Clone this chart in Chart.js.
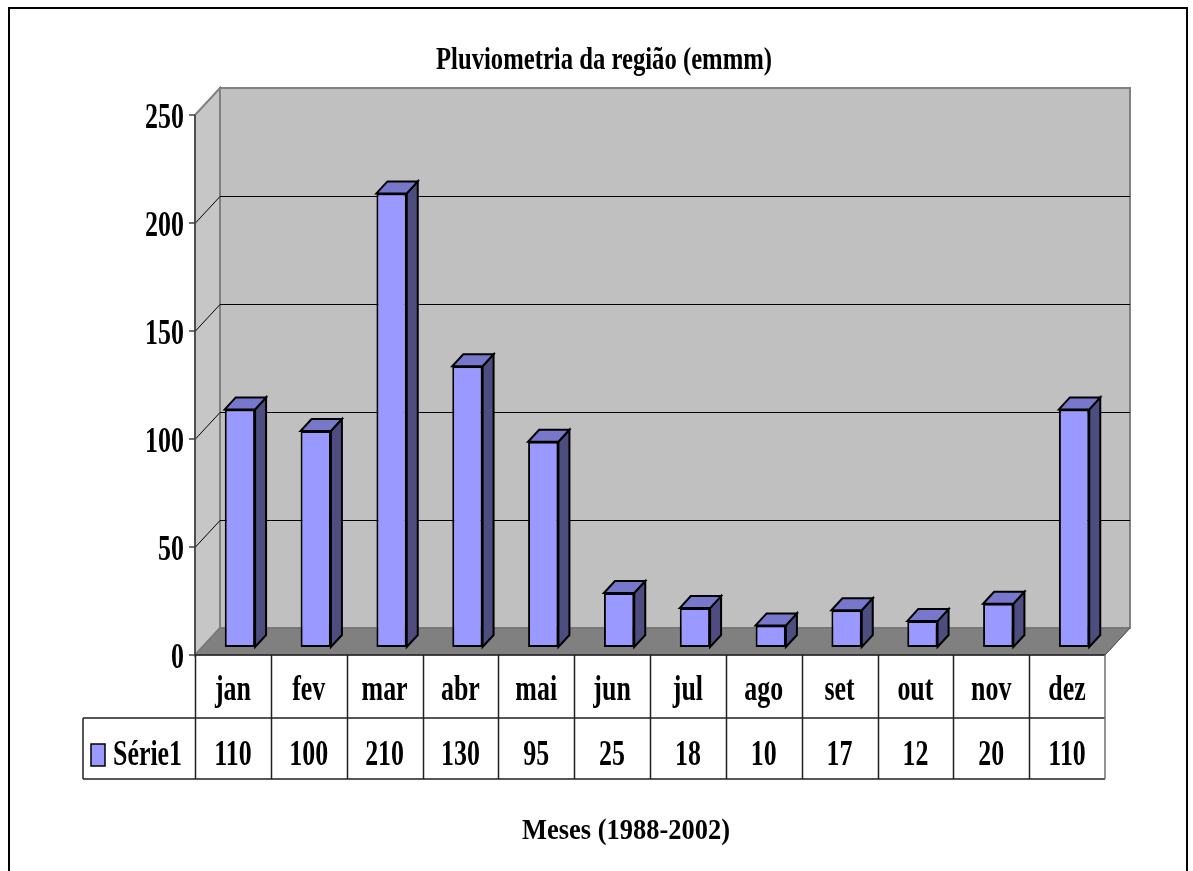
<!DOCTYPE html>
<html>
<head>
<meta charset="utf-8">
<title>Pluviometria da região</title>
<script src="https://cdn.jsdelivr.net/npm/chart.js@4.4.1/dist/chart.umd.min.js"></script>
<style>
  html, body { margin: 0; padding: 0; background: #fff; }
  #wrap { position: relative; width: 1193px; height: 871px; }
</style>
</head>
<body>
<div id="wrap"><canvas id="rainChart" width="1193" height="871"></canvas></div>
<script>
const months = ['jan', 'fev', 'mar', 'abr', 'mai', 'jun', 'jul', 'ago', 'set', 'out', 'nov', 'dez'];
const rainfall = [110, 100, 210, 130, 95, 25, 18, 10, 17, 12, 20, 110];
const yTicks = [0, 50, 100, 150, 200, 250];
const seriesName = 'Série1';
const chartTitle = 'Pluviometria da região (emmm)';
const xTitle = 'Meses (1988-2002)';

const FONT = '"Liberation Serif", "Times New Roman", serif';
const DEPTH = { dx: 25, dy: -27 };      // front plane -> back wall
const BAR_SHIFT = { dx: 7, dy: -8 };    // bars sit a bit behind the front plane
const BAR_DEPTH = { dx: 11, dy: -12 };  // thickness of each column

// narrow bold serif text, squeezed horizontally like the original
function squeezed(ctx, text, x, y, size, sx, align) {
  ctx.save();
  ctx.font = `bold ${size}px ${FONT}`;
  ctx.textBaseline = 'alphabetic';
  ctx.textAlign = 'left';
  const w = ctx.measureText(text).width * sx;
  let x0 = x;
  if (align === 'center') x0 = x - w / 2;
  else if (align === 'right') x0 = x - w;
  ctx.translate(x0, y);
  ctx.scale(sx, 1);
  ctx.fillStyle = '#000';
  ctx.fillText(text, 0, 0);
  ctx.restore();
}

function fitted(ctx, text, cx, y, size, width) {
  ctx.save();
  ctx.font = `bold ${size}px ${FONT}`;
  const sx = width / ctx.measureText(text).width;
  ctx.restore();
  squeezed(ctx, text, cx, y, size, sx, 'center');
}

function poly(ctx, pts, fill, stroke, lw) {
  ctx.beginPath();
  ctx.moveTo(pts[0][0], pts[0][1]);
  for (let i = 1; i < pts.length; i++) ctx.lineTo(pts[i][0], pts[i][1]);
  ctx.closePath();
  if (fill) { ctx.fillStyle = fill; ctx.fill(); }
  if (stroke) { ctx.strokeStyle = stroke; ctx.lineWidth = lw || 1; ctx.stroke(); }
}

const excel3d = {
  id: 'excel3d',
  beforeDatasetsDraw(chart) {
    const { ctx, chartArea: a, scales: { y } } = chart;
    const { dx, dy } = DEPTH;

    // outer frame
    ctx.save();
    ctx.strokeStyle = '#000';
    ctx.lineWidth = 2;
    ctx.beginPath();
    ctx.moveTo(9, 880); ctx.lineTo(9, 8); ctx.lineTo(1187, 8); ctx.lineTo(1187, 880);
    ctx.stroke();

    // back wall + left wall
    poly(ctx, [[a.left + dx, a.top + dy], [a.right + dx, a.top + dy], [a.right + dx, a.bottom + dy], [a.left + dx, a.bottom + dy]], '#c0c0c0', '#808080', 2);
    poly(ctx, [[a.left, a.top], [a.left + dx, a.top + dy], [a.left + dx, a.bottom + dy], [a.left, a.bottom]], '#c6c6c6', '#808080', 2);

    // gridlines on the walls
    ctx.strokeStyle = '#000';
    ctx.lineWidth = 1;
    yTicks.forEach(v => {
      if (v === 0 || v === y.max) return;
      const py = Math.round(y.getPixelForValue(v)) + 0.5;
      ctx.beginPath();
      ctx.moveTo(a.left, py);
      ctx.lineTo(a.left + dx, py + dy);
      ctx.lineTo(a.right + dx, py + dy);
      ctx.stroke();
    });

    // floor
    poly(ctx, [[a.left, a.bottom], [a.right, a.bottom], [a.right + dx, a.bottom + dy], [a.left + dx, a.bottom + dy]], '#808080', '#707070', 1);

    // value axis on the front plane
    ctx.strokeStyle = '#404040';
    ctx.lineWidth = 1.5;
    ctx.beginPath();
    ctx.moveTo(a.left, a.top);
    ctx.lineTo(a.left, a.bottom);
    ctx.stroke();
    yTicks.forEach(v => {
      const py = y.getPixelForValue(v);
      ctx.beginPath();
      ctx.moveTo(a.left - 6, py);
      ctx.lineTo(a.left, py);
      ctx.stroke();
      squeezed(ctx, String(v), a.left - 11, py + 13, 36, 0.72, 'right');
    });
    ctx.restore();

    // push the bars back into the middle of the depth
    ctx.save();
    ctx.translate(BAR_SHIFT.dx, BAR_SHIFT.dy);
  },

  afterDatasetsDraw(chart) {
    const { ctx } = chart;
    const meta = chart.getDatasetMeta(0);
    const { dx, dy } = BAR_DEPTH;
    meta.data.forEach(bar => {
      const { x, y, base, width } = bar.getProps(['x', 'y', 'base', 'width'], true);
      const l = x - width / 2, r = x + width / 2;
      // side face
      poly(ctx, [[r, y], [r + dx, y + dy], [r + dx, base + dy], [r, base]], '#4d4d80', '#000', 2);
      // top face
      poly(ctx, [[l, y], [l + dx, y + dy], [r + dx, y + dy], [r, y]], '#7777cc', '#000', 2);
    });
    ctx.restore();
  },

  afterDraw(chart) {
    const { ctx, chartArea: a, scales: { x } } = chart;
    const { dx, dy } = DEPTH;
    const colW = (a.right - a.left) / months.length;
    const rowTop = a.bottom, rowMid = 718, rowBot = 779, legendLeft = 83;

    ctx.save();
    // floor front edge and right side edge
    ctx.strokeStyle = '#505050';
    ctx.lineWidth = 1;
    ctx.beginPath();
    ctx.moveTo(a.right, a.bottom);
    ctx.lineTo(a.right + dx, a.bottom + dy);
    ctx.stroke();

    // data table
    ctx.strokeStyle = '#202020';
    ctx.lineWidth = 1.5;
    ctx.beginPath();
    ctx.moveTo(a.left, rowTop); ctx.lineTo(a.right, rowTop);
    ctx.moveTo(legendLeft, rowMid); ctx.lineTo(a.right, rowMid);
    ctx.moveTo(legendLeft, rowBot); ctx.lineTo(a.right, rowBot);
    ctx.moveTo(legendLeft, rowMid); ctx.lineTo(legendLeft, rowBot);
    for (let i = 0; i < months.length; i++) {
      const bx = Math.round(a.left + i * colW) + 0.5;
      ctx.moveTo(bx, rowTop); ctx.lineTo(bx, rowBot);
    }
    ctx.stroke();
    ctx.strokeStyle = '#707070';
    ctx.beginPath();
    ctx.moveTo(a.right, rowTop); ctx.lineTo(a.right, rowBot);
    ctx.stroke();

    months.forEach((m, i) => {
      const cx = x.getPixelForValue(i);
      squeezed(ctx, m, cx, 700, 36, 0.72, 'center');
      squeezed(ctx, String(rainfall[i]), cx, 765, 36, 0.72, 'center');
    });

    // legend key + series name
    ctx.fillStyle = '#9999ff';
    ctx.fillRect(91, 744, 14, 22);
    ctx.strokeStyle = '#000';
    ctx.lineWidth = 1.5;
    ctx.strokeRect(91, 744, 14, 22);
    squeezed(ctx, seriesName, 113, 765, 35, 0.74, 'left');

    // titles
    fitted(ctx, chartTitle, 604, 69, 32, 336);
    fitted(ctx, xTitle, 626, 839, 30, 208);
    ctx.restore();
  }
};

const chart = new Chart(document.getElementById('rainChart'), {
  type: 'bar',
  data: {
    labels: months,
    datasets: [{
      label: seriesName,
      data: rainfall,
      backgroundColor: '#9999ff',
      borderColor: '#000',
      borderWidth: 2,
      borderSkipped: false,
      barPercentage: 0.4,
      categoryPercentage: 1.0,
      clip: false,
    }]
  },
  options: {
    responsive: false,
    animation: false,
    devicePixelRatio: 1,
    layout: { padding: { left: 195, right: 88, top: 115, bottom: 216 } },
    plugins: {
      legend: { display: false },
      tooltip: { enabled: false },
      title: { display: false },
    },
    scales: {
      x: { display: false, offset: true },
      y: { display: false, min: 0, max: 250, ticks: { stepSize: 50 } }
    }
  },
  plugins: [excel3d]
});
</script>
</body>
</html>
